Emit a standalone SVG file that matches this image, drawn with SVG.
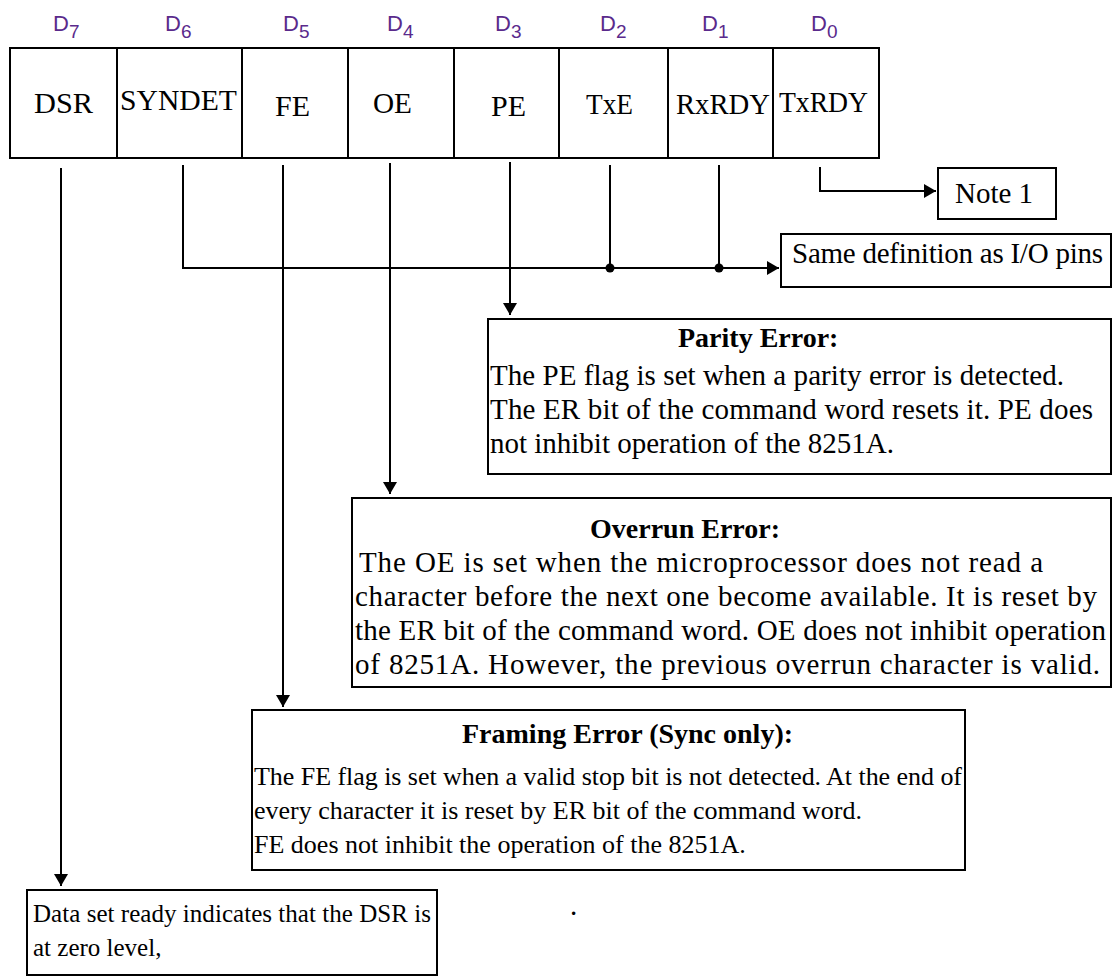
<svg xmlns="http://www.w3.org/2000/svg" width="1119" height="976" viewBox="0 0 1119 976">
<defs>
<style>
.bx{fill:#fff;stroke:#000;stroke-width:2}
.ln{fill:none;stroke:#000;stroke-width:2}
.reg{font-family:"Liberation Serif","Times New Roman",serif;font-size:30px;fill:#000}
.bd{font-family:"Liberation Serif","Times New Roman",serif;font-size:29px;fill:#000}
.sm{font-family:"Liberation Serif","Times New Roman",serif;font-size:26px;fill:#000}
.tt{font-family:"Liberation Serif","Times New Roman",serif;font-size:28px;font-weight:bold;fill:#000}
.dl{font-family:"Liberation Sans",Arial,sans-serif;font-size:22px;fill:#5a2a8c}
.sb{font-size:19px}
</style>
<marker id="ah" viewBox="0 0 12 14" refX="12" refY="7" markerWidth="12" markerHeight="14" markerUnits="userSpaceOnUse" orient="auto">
<path d="M0,0 L12,7 L0,14 Z" fill="#000"/>
</marker>
</defs>
<rect width="1119" height="976" fill="#fff"/>

<g id="bit-labels">
<text class="dl" x="53" y="31">D<tspan class="sb" dy="7">7</tspan></text>
<text class="dl" x="165" y="31">D<tspan class="sb" dy="7">6</tspan></text>
<text class="dl" x="283" y="31">D<tspan class="sb" dy="7">5</tspan></text>
<text class="dl" x="387" y="31">D<tspan class="sb" dy="7">4</tspan></text>
<text class="dl" x="495" y="31">D<tspan class="sb" dy="7">3</tspan></text>
<text class="dl" x="600" y="31">D<tspan class="sb" dy="7">2</tspan></text>
<text class="dl" x="702" y="31">D<tspan class="sb" dy="7">1</tspan></text>
<text class="dl" x="811" y="31">D<tspan class="sb" dy="7">0</tspan></text>
</g>

<g id="register">
<rect class="bx" x="10" y="48" width="869" height="110"/>
<path class="ln" d="M117,48V158M242,48V158M348,48V158M454,48V158M559,48V158M668,48V158M773,48V158"/>
<text class="reg" x="34" y="113" textLength="59" lengthAdjust="spacingAndGlyphs">DSR</text>
<text class="reg" x="120" y="110" textLength="117" lengthAdjust="spacingAndGlyphs">SYNDET</text>
<text class="reg" x="275" y="116" textLength="35" lengthAdjust="spacingAndGlyphs">FE</text>
<text class="reg" x="373" y="113" textLength="39" lengthAdjust="spacingAndGlyphs">OE</text>
<text class="reg" x="491" y="116" textLength="35" lengthAdjust="spacingAndGlyphs">PE</text>
<text class="reg" x="586" y="114" textLength="47" lengthAdjust="spacingAndGlyphs">TxE</text>
<text class="reg" x="676" y="114" textLength="94" lengthAdjust="spacingAndGlyphs">RxRDY</text>
<text class="reg" x="779" y="112" textLength="89" lengthAdjust="spacingAndGlyphs">TxRDY</text>
</g>

<g id="connectors">
<path class="ln" d="M61,168V886" marker-end="url(#ah)"/>
<path class="ln" d="M183,165V268H779" marker-end="url(#ah)"/>
<path class="ln" d="M283,165V707" marker-end="url(#ah)"/>
<path class="ln" d="M390,163V494" marker-end="url(#ah)"/>
<path class="ln" d="M510,162V315" marker-end="url(#ah)"/>
<path class="ln" d="M610,165V268"/>
<path class="ln" d="M719,165V268"/>
<path class="ln" d="M820,167V191H936" marker-end="url(#ah)"/>
<circle cx="610" cy="268" r="4.5" fill="#000"/>
<circle cx="719" cy="268" r="4.5" fill="#000"/>
</g>

<g id="note1">
<rect class="bx" x="938" y="168" width="118" height="51"/>
<text class="bd" x="955" y="203">Note 1</text>
</g>

<g id="same-def">
<rect class="bx" x="781" y="234" width="330" height="53"/>
<text class="bd" x="792" y="263" textLength="311" lengthAdjust="spacing">Same definition as I/O pins</text>
</g>

<g id="parity">
<rect class="bx" x="488" y="319" width="623" height="155"/>
<text class="tt" x="678" y="347">Parity Error:</text>
<text class="bd" x="490" y="385" textLength="574" lengthAdjust="spacing">The PE flag is set when a parity error is detected.</text>
<text class="bd" x="490" y="419" textLength="603" lengthAdjust="spacing">The ER bit of the command word resets it. PE does</text>
<text class="bd" x="490" y="453" textLength="404" lengthAdjust="spacing">not inhibit operation of the 8251A.</text>
</g>

<g id="overrun">
<rect class="bx" x="352" y="498" width="759" height="189"/>
<text class="tt" x="590" y="538">Overrun Error:</text>
<text class="bd" x="359" y="572" textLength="684" lengthAdjust="spacing">The OE is set when the microprocessor does not read a</text>
<text class="bd" x="355" y="606" textLength="742" lengthAdjust="spacing">character before the next one become available. It is reset by</text>
<text class="bd" x="355" y="640" textLength="751" lengthAdjust="spacing">the ER bit of the command word. OE does not inhibit operation</text>
<text class="bd" x="355" y="674" textLength="745" lengthAdjust="spacing">of 8251A. However, the previous overrun character is valid.</text>
</g>

<g id="framing">
<rect class="bx" x="252" y="710" width="713" height="160"/>
<text class="tt" x="462" y="743">Framing Error (Sync only):</text>
<text class="sm" x="254" y="785" textLength="708" lengthAdjust="spacing">The FE flag is set when a valid stop bit is not detected. At the end of</text>
<text class="sm" x="254" y="819">every character it is reset by ER bit of the command word.</text>
<text class="sm" x="254" y="853">FE does not inhibit the operation of the 8251A.</text>
</g>

<g id="dsr-box">
<rect class="bx" x="27" y="890" width="410" height="85"/>
<text class="sm" x="33" y="922" textLength="398" lengthAdjust="spacing" style="font-size:25px">Data set ready indicates that the DSR is</text>
<text class="sm" x="33" y="956" style="font-size:25px">at zero level,</text>
</g>

<text class="bd" x="570" y="915">.</text>
</svg>
